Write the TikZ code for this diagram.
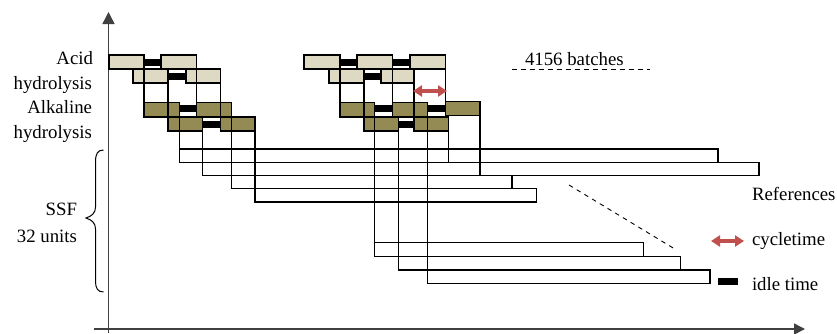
\documentclass[tikz,border=0pt]{standalone}
\usepackage{fontspec}
\setmainfont{Liberation Serif}
\usetikzlibrary{arrows.meta}

\definecolor{acidc}{HTML}{DDD9C3}
\definecolor{alkc}{HTML}{948A54}
\definecolor{cyc}{HTML}{C0504D}
\definecolor{axisc}{HTML}{404040}

% style, name, x1, y1, x2, y2  (box given by its corners)
\newcommand\placebox[6]{%
  \node[#1, minimum width={(#5-#3)*1pt}, minimum height={(#6-#4)*1pt}]
    (#2) at ({(#3+#5)/2},{(#4+#6)/2}) {};}

\begin{document}
\begin{tikzpicture}[x=1pt, y=-1pt,
  font=\fontsize{18.8}{21}\selectfont,
  basebox/.style={draw=black, line width=1.3pt, inner sep=0pt, outer sep=0pt},
  acidbox/.style={basebox, fill=acidc},
  alkbox/.style={basebox, fill=alkc},
  ssfbox/.style={basebox, fill=white},
  idlebar/.style={fill=black, draw=none, inner sep=0pt, outer sep=0pt},
  link/.style={draw=black, line width=1.3pt},
  axisline/.style={draw=axisc, line width=1.5pt},
  cyclearrow/.style={draw=cyc, line width=3.3pt,
    {Triangle[length=9pt,width=11pt]}-{Triangle[length=9pt,width=11pt]}},
  guide/.style={draw=black, line width=0.9pt, dash pattern=on 5pt off 4pt},
  label/.style={inner sep=0pt, outer sep=0pt}
]
\useasboundingbox (0,0) rectangle (837,333);

% ---- axes
\coordinate (ybot) at (108.5,333);
\coordinate (ytop) at (108.5,12);
\coordinate (xleft) at (94,329);
\coordinate (xright) at (805,329);
\draw[axisline, -{Triangle[length=12pt,width=12pt]}] (ybot) -- (ytop);
\draw[axisline, -{Triangle[length=11pt,width=11pt]}] (xleft) -- (xright);

% ---- SSF units
\placebox{ssfbox}{sA}{179.5}{149}{718}{162.5}
\placebox{ssfbox}{sB}{202.5}{162.5}{759}{175.5}
\placebox{ssfbox}{sC}{231.5}{175.5}{512}{188.5}
\placebox{ssfbox}{sD}{255}{188.5}{536.5}{202}
\placebox{ssfbox}{sE}{374.5}{242.5}{643.5}{256.5}
\placebox{ssfbox}{sF}{398.5}{256.5}{680.5}{270}
\placebox{ssfbox}{sG}{427.5}{270}{710}{283.5}

% ---- first group: acid hydrolysis
\placebox{acidbox}{a1}{109}{55}{144}{69}
\placebox{acidbox}{a2}{161}{55}{196.5}{69}
\placebox{acidbox}{a3}{133}{69}{168}{83}
\placebox{acidbox}{a4}{186}{69}{220.5}{83}
% alkaline hydrolysis
\placebox{alkbox}{k1}{144}{102.5}{179.5}{117}
\placebox{alkbox}{k2}{196.5}{102.5}{231.5}{117}
\placebox{alkbox}{k3}{168}{117}{202.5}{131}
\placebox{alkbox}{k4}{220.5}{117}{255}{131}

% ---- second group: acid hydrolysis
\placebox{acidbox}{b1}{304}{55}{340}{69}
\placebox{acidbox}{b2}{357}{55}{392.5}{69}
\placebox{acidbox}{b3}{410}{55}{445.5}{69}
\placebox{acidbox}{b4}{329}{69}{364}{83}
\placebox{acidbox}{b5}{381}{69}{414}{83}
% alkaline hydrolysis
\placebox{alkbox}{m1}{340}{102.5}{374.5}{117}
\placebox{alkbox}{m2}{392.5}{102.5}{427.5}{117}
\placebox{alkbox}{m3}{445.5}{101.5}{480}{115.5}
\placebox{alkbox}{m4}{364}{117}{398.5}{131}
\placebox{alkbox}{m5}{414}{117}{448.5}{131}

% ---- idle times
\placebox{idlebar}{i1}{144}{58.5}{161}{65.5}
\placebox{idlebar}{i2}{168}{72.5}{186}{79.5}
\placebox{idlebar}{i3}{179.5}{105}{196.5}{112}
\placebox{idlebar}{i4}{202.5}{120.5}{220.5}{127.5}
\placebox{idlebar}{i5}{340}{58.5}{357}{65.5}
\placebox{idlebar}{i6}{392.5}{58.5}{410}{65.5}
\placebox{idlebar}{i7}{364}{72.5}{381}{79.5}
\placebox{idlebar}{i8}{374.5}{105}{392.5}{112}
\placebox{idlebar}{i9}{427.5}{105}{445.5}{112}
\placebox{idlebar}{i10}{398.5}{120.5}{414}{127.5}

% ---- transfers: acid -> alkaline
\draw[link] (a1.south east) -- (a1.south east |- k1.north);
\draw[link] (a2.south east) -- (a2.south east |- k2.north);
\draw[link] (a3.south east) -- (a3.south east |- k3.north);
\draw[link] (a4.south east) -- (a4.south east |- k4.north);
\draw[link] (b1.south east) -- (b1.south east |- m1.north);
\draw[link] (b2.south east) -- (b2.south east |- m2.north);
\draw[link] (b3.south east) -- (b3.south east |- m3.north);
\draw[link] (b4.south east) -- (b4.south east |- m4.north);
\draw[link] (b5.south east) -- (b5.south east |- m5.north);

% ---- transfers: alkaline -> SSF
\draw[link] (k1.south east) -- (k1.south east |- sA.north);
\draw[link] (k3.south east) -- (k3.south east |- sB.north);
\draw[link] (k2.south east) -- (k2.south east |- sC.north);
\draw[link] (k4.south east) -- (k4.south east |- sD.north);
\draw[link] (m1.south east) -- (m1.south east |- sE.north);
\draw[link] (m4.south east) -- (m4.south east |- sF.north);
\draw[link] (m2.south east) -- (m2.south east |- sG.north);
\draw[link] (m5.south east) -- (m5.south east |- sA.south);
\draw[link] (m3.south east) -- (m3.south east |- sB.south);

% ---- cycle time
\coordinate (cycL) at (413,91);
\coordinate (cycR) at (447,91);
\draw[cyclearrow] (cycL) -- (cycR);

% ---- batch count
\node[label, anchor=base west] (nb) at (525,65) {4156 batches};
\coordinate (nbL) at (511.5,69.3);
\coordinate (nbR) at (650,69.3);
\draw[guide] (nbL) -- (nbR);
\coordinate (dgA) at (569,185);
\coordinate (dgB) at (674,248.5);
\draw[guide, dash pattern=on 4.5pt off 4.5pt] (dgA) -- (dgB);

% ---- row labels
\node[label, anchor=base east] (l1) at (93,64.5) {Acid};
\node[label, anchor=base east] (l2) at (92,89) {hydrolysis};
\node[label, anchor=base east] (l3) at (92,113.5) {Alkaline};
\node[label, anchor=base east] (l4) at (92,138) {hydrolysis};
\node[label, anchor=base east] (l5) at (77,215) {SSF};
\node[label, anchor=base east] (l6) at (77,242) {32 units};
\draw[line width=1pt] (103.5,150) .. controls (97.5,150) and (95.5,154) .. (95.5,162)
  -- (95.5,207) .. controls (95.5,213) and (92,216) .. (86,218)
  .. controls (92,220) and (95.5,223) .. (95.5,229)
  -- (95.5,281) .. controls (95.5,288) and (97.5,292) .. (103.5,292);

% ---- legend
\node[label, anchor=base west] (r0) at (752,200.5) {References};
\coordinate (lgL) at (711,241);
\coordinate (lgR) at (744,241);
\draw[cyclearrow] (lgL) -- (lgR);
\node[label, anchor=base west] (r1) at (752,245) {cycletime};
\placebox{idlebar}{lgidle}{717.5}{278}{737.5}{285}
\node[label, anchor=base west] (r2) at (752,290) {idle time};
\end{tikzpicture}
\end{document}
